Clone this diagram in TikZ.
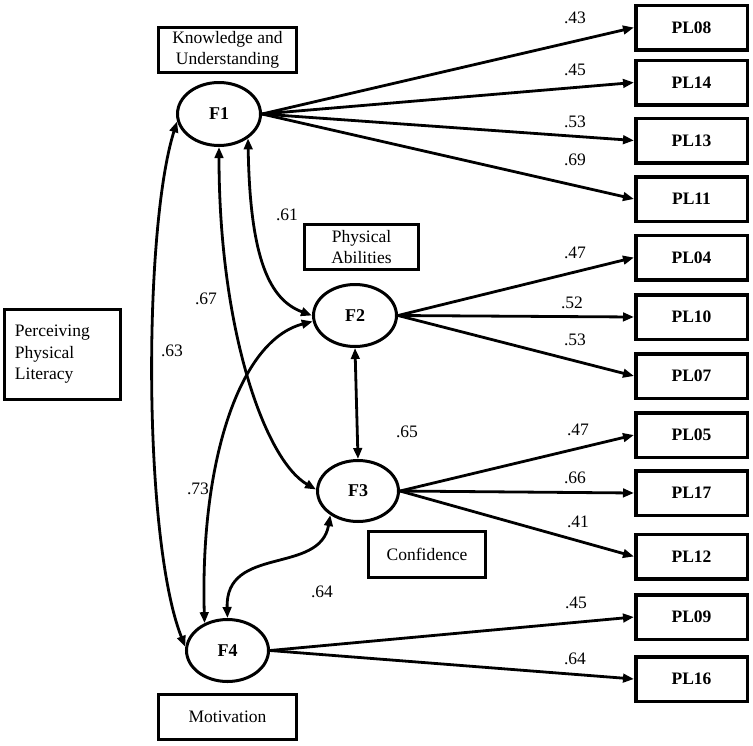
\documentclass[tikz,border=0pt]{standalone}
\usepackage{fontspec}
\setmainfont{Liberation Serif}
\usetikzlibrary{arrows.meta,shapes.geometric}
\begin{document}
\begin{tikzpicture}[x=1pt,y=-1pt,
  every node/.style={font=\fontsize{17.5}{21.5}\selectfont},
  lat/.style={ellipse, draw, line width=3pt, inner sep=0pt, font=\fontsize{18}{21}\selectfont\bfseries},
  obs/.style={draw, line width=3.5pt, minimum width=111.5pt, minimum height=44.5pt, inner sep=0pt, font=\fontsize{17.5}{21}\selectfont\bfseries},
  lbl/.style={draw, line width=3pt, inner sep=0pt, align=center},
  arr/.style={line width=2.8pt, -{Triangle[length=11pt,width=8.5pt]}},
  dbl/.style={line width=2.8pt, {Triangle[length=11pt,width=8.5pt]}-{Triangle[length=11pt,width=8.5pt]}},
  coef/.style={inner sep=0pt}]
\useasboundingbox (0,0) rectangle (753,745);
% latent factors
\node[lat, minimum width=83pt, minimum height=63pt] (F1) at (219,114) {F1};
\node[lat, minimum width=83pt, minimum height=62pt] (F2) at (355,315.5) {F2};
\node[lat, minimum width=81pt, minimum height=61pt] (F3) at (358,491) {F3};
\node[lat, minimum width=82pt, minimum height=62pt] (F4) at (227.5,650.5) {F4};
% factor names
\node[lbl, minimum width=138pt, minimum height=45pt] (KU) at (227.5,50) {Knowledge and\\Understanding};
\node[lbl, minimum width=114pt, minimum height=45pt] (PA) at (361.5,247) {Physical\\Abilities};
\node[lbl, minimum width=117pt, minimum height=46pt] (CO) at (427,554.5) {Confidence};
\node[lbl, minimum width=138pt, minimum height=45pt] (MO) at (227.5,717) {Motivation};
\node[lbl, align=left, text width=95pt, inner xsep=10.5pt, minimum height=90pt] (PPL) at (62.5,354.5) {Perceiving\\Physical\\Literacy};
% observed items
\foreach \n/\y in {PL08/27.5, PL14/82.5, PL13/140.5, PL11/199, PL04/257.5, PL10/317, PL07/376, PL05/435, PL17/493, PL12/556.5, PL09/617, PL16/679}
  \node[obs] (\n) at (691.5,\y) {\n};
% loadings
\foreach \n in {PL08,PL14,PL13,PL11} \draw[arr] (F1.east) -- (\n.west);
\foreach \n in {PL04,PL10,PL07} \draw[arr] (F2.east) -- (\n.west);
\foreach \n in {PL05,PL17,PL12} \draw[arr] (F3.east) -- (\n.west);
\foreach \n in {PL09,PL16} \draw[arr] (F4.east) -- (\n.west);
% correlations
\draw[dbl] (F1.190) .. controls (143,230) and (143,540) .. (F4.175);
\draw[dbl] (F1.270) .. controls (219,330) and (265,460) .. (F3.178);
\draw[dbl] (F1.-40) .. controls (250,260) and (270,300) .. (F2.180);
\draw[dbl] (F2.188) .. controls (240,340) and (200,460) .. (F4.130);
\draw[dbl] (F2.south) -- (F3.north);
\draw[dbl] (F3.221) .. controls (320,575) and (225,545) .. (F4.90);
% coefficient labels
\node[coef] (c1) at (575,18) {.43};
\node[coef] (c2) at (575,70) {.45};
\node[coef] (c3) at (575,122) {.53};
\node[coef] (c4) at (575,160) {.69};
\node[coef] (c5) at (575,253) {.47};
\node[coef] (c6) at (572,303) {.52};
\node[coef] (c7) at (575,340) {.53};
\node[coef] (c8) at (578,430) {.47};
\node[coef] (c9) at (575,478) {.66};
\node[coef] (c10) at (578,522) {.41};
\node[coef] (c11) at (576,603) {.45};
\node[coef] (c12) at (575,659) {.64};
\node[coef] (r1) at (287,215) {.61};
\node[coef] (r2) at (206,299) {.67};
\node[coef] (r3) at (172,351) {.63};
\node[coef] (r4) at (407,432) {.65};
\node[coef] (r5) at (198,489) {.73};
\node[coef] (r6) at (322,592) {.64};
\end{tikzpicture}
\end{document}
